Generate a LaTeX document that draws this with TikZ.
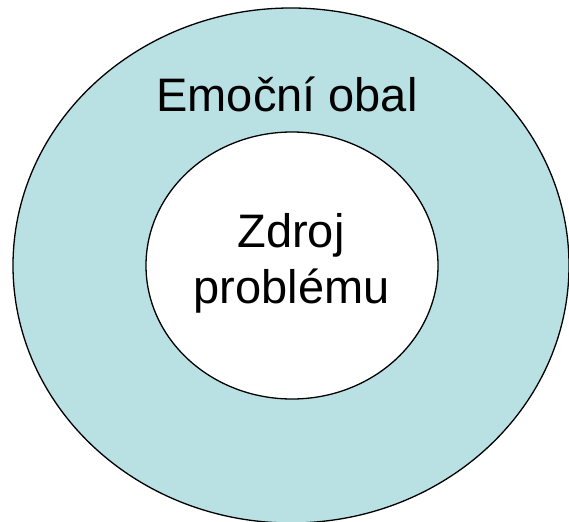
\documentclass[tikz,border=0pt]{standalone}
\usepackage{fontspec}
\setmainfont{Liberation Sans}
\usetikzlibrary{shapes.geometric}
\definecolor{obalfill}{RGB}{185,224,227}
\tikzset{
  ring/.style={draw=black, line width=1.3pt, ellipse, inner sep=0pt},
  label47/.style={font=\fontsize{47}{56}\selectfont, inner sep=0pt, text=black}
}
\begin{document}
\begin{tikzpicture}[x=1pt,y=-1pt]
\useasboundingbox (0,0) rectangle (569,521);
\begin{scope}
\clip (0,0) rectangle (569,521);
\node[ring, fill=obalfill, minimum width=556pt, minimum height=515pt] (outer) at (291,265.5) {};
\end{scope}
\node[ring, fill=white, minimum width=292pt, minimum height=267pt] (inner) at (292,265.5) {};
\node[label47, anchor=base] (emo) at (287,112) {Emoční obal};
\node[label47, anchor=base] (zdroj) at (291,247) {Zdroj};
\node[label47, anchor=base] (probl) at (291.5,303) {problému};
\end{tikzpicture}
\end{document}
